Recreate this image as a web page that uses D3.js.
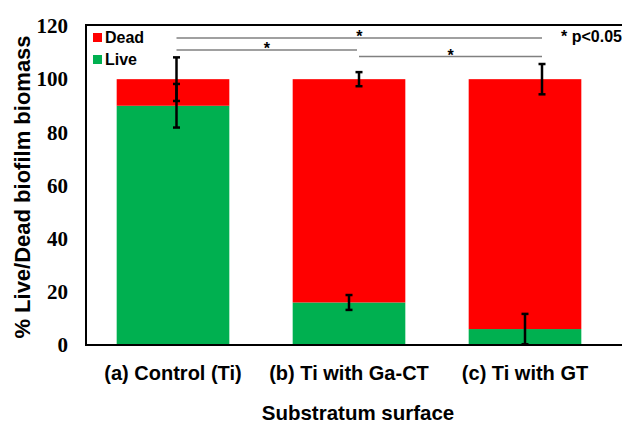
<!DOCTYPE html>
<html>
<head>
<meta charset="utf-8">
<script src="https://cdn.jsdelivr.net/npm/d3@7"></script>
<style>
  html, body { margin: 0; padding: 0; background: #fff; }
  svg { display: block; }
</style>
</head>
<body>
<svg id="chart" width="622" height="424"></svg>
<script>
// Substrate groups and biofilm composition (% of total biomass)
const categories = ["(a) Control (Ti)", "(b) Ti with Ga-CT", "(c) Ti with GT"];
const liveValues = [90, 16, 6];
const deadValues = [10, 84, 94];
const liveErrors = [8.2, 2.8, 5.7];
const deadErrors = [8.2, 2.65, 5.7];
const yTicks = [0, 20, 40, 60, 80, 100, 120];
const seriesNames = ["Dead", "Live"];
// Pairwise significance comparisons (category indices) and bracket heights (% units)
const comparisons = [[0, 2], [0, 1], [1, 2]];
const comparisonLevels = [115.5, 111, 108.5];
const significanceNote = "* p<0.05";

const colors = { Dead: "#ff0000", Live: "#00b050" };
const sans = "'Liberation Sans', Arial, Helvetica, sans-serif";
const serif = "'Liberation Serif', 'Times New Roman', serif";

const svg = d3.select("#chart");
const W = 622;
const plotLeft = 86, plotTop = 26, plotBottom = 345;

const x = d3.scaleBand()
  .domain(categories)
  .range([85, 613])
  .paddingInner(0.36)
  .paddingOuter(0.18);

const y = d3.scaleLinear().domain([0, 120]).range([plotBottom, plotTop]);

// Error whiskers sit slightly right of the bar centre
const deadShift = [3.5, 10, 17];
const liveShift = [3.5, 0, 0];
const cx = i => x(categories[i]) + x.bandwidth() / 2;
const deadX = i => cx(i) + deadShift[i];
const liveX = i => cx(i) + liveShift[i];

// Stacked bars
const rows = categories.map((c, i) => ({ cat: c, Live: liveValues[i], Dead: deadValues[i] }));
const stack = d3.stack().keys(["Live", "Dead"])(rows);

svg.append("g").selectAll("g")
  .data(stack)
  .join("g")
  .attr("fill", d => colors[d.key])
  .selectAll("rect")
  .data(d => d)
  .join("rect")
  .attr("x", d => x(d.data.cat))
  .attr("width", x.bandwidth())
  .attr("y", d => y(d[1]))
  .attr("height", d => y(d[0]) - y(d[1]));

// Error bars
function errorBar(g, xpos, v, e) {
  const lo = Math.max(0, v - e), hi = v + e;
  g.append("line").attr("x1", xpos).attr("x2", xpos)
    .attr("y1", y(lo)).attr("y2", y(hi))
    .attr("stroke", "#000").attr("stroke-width", 2.5);
  [hi, lo].forEach(t => {
    if (t === 0) return;
    g.append("line").attr("x1", xpos - 3.5).attr("x2", xpos + 3.5)
      .attr("y1", y(t)).attr("y2", y(t))
      .attr("stroke", "#000").attr("stroke-width", 2.5);
  });
}
const eg = svg.append("g");
categories.forEach((c, i) => {
  errorBar(eg, liveX(i), liveValues[i], liveErrors[i]);
  errorBar(eg, deadX(i), liveValues[i] + deadValues[i], deadErrors[i]);
});

// Frame: left axis, bottom axis, top border
const frame = svg.append("g").attr("stroke", "#000").attr("stroke-width", 2);
frame.append("line").attr("x1", plotLeft).attr("x2", plotLeft).attr("y1", y(120) - 1).attr("y2", plotBottom + 1);
frame.append("line").attr("x1", plotLeft - 1).attr("x2", W).attr("y1", plotBottom).attr("y2", plotBottom);
frame.append("line").attr("x1", plotLeft - 1).attr("x2", W).attr("y1", y(120) - 1).attr("y2", y(120) - 1);

// Y axis labels (no tick marks)
const yAxis = d3.axisLeft(y).tickValues(yTicks).tickSize(0).tickPadding(18);
const ya = svg.append("g").attr("transform", `translate(${plotLeft},0)`).call(yAxis);
ya.select(".domain").remove();
ya.selectAll("text")
  .attr("font-family", serif).attr("font-weight", "bold")
  .attr("font-size", 21).attr("fill", "#000");

// X category labels
const xAxis = d3.axisBottom(x).tickSize(0).tickPadding(21);
const xa = svg.append("g").attr("transform", `translate(0,${plotBottom})`).call(xAxis);
xa.select(".domain").remove();
xa.selectAll("text")
  .attr("font-family", sans).attr("font-weight", "bold")
  .attr("font-size", 20).attr("fill", "#000");

// Axis titles
svg.append("text")
  .attr("transform", `translate(30,187) rotate(-90)`)
  .attr("text-anchor", "middle")
  .attr("font-family", sans).attr("font-weight", "bold").attr("font-size", 22)
  .text("% Live/Dead biofilm biomass");

svg.append("text")
  .attr("x", 358).attr("y", 420)
  .attr("text-anchor", "middle")
  .attr("font-family", sans).attr("font-weight", "bold").attr("font-size", 20.5)
  .text("Substratum surface");

// Legend
const lg = svg.append("g").attr("transform", "translate(93,33)");
seriesNames.forEach((name, i) => {
  const row = lg.append("g").attr("transform", `translate(0,${i * 22})`);
  row.append("rect").attr("width", 9).attr("height", 9).attr("fill", colors[name]);
  row.append("text").attr("x", 12).attr("y", 10)
    .attr("font-family", sans).attr("font-weight", "bold").attr("font-size", 16)
    .text(name);
});

// Significance brackets
const sg = svg.append("g");
comparisons.forEach(([a, b], k) => {
  const x1 = deadX(a), x2 = deadX(b) - (a === 0 && b === 1 ? 2 : 0);
  const yy = y(comparisonLevels[k]);
  sg.append("line").attr("x1", x1).attr("x2", x2).attr("y1", yy).attr("y2", yy)
    .attr("stroke", "#808080").attr("stroke-width", 1.5);
  sg.append("text").attr("x", (x1 + x2) / 2).attr("y", yy + 4.5)
    .attr("text-anchor", "middle")
    .attr("font-family", sans).attr("font-weight", "bold").attr("font-size", 16)
    .text("*");
});

svg.append("text")
  .attr("x", 561).attr("y", 42)
  .attr("font-family", sans).attr("font-weight", "bold").attr("font-size", 16)
  .text(significanceNote);
</script>
</body>
</html>
